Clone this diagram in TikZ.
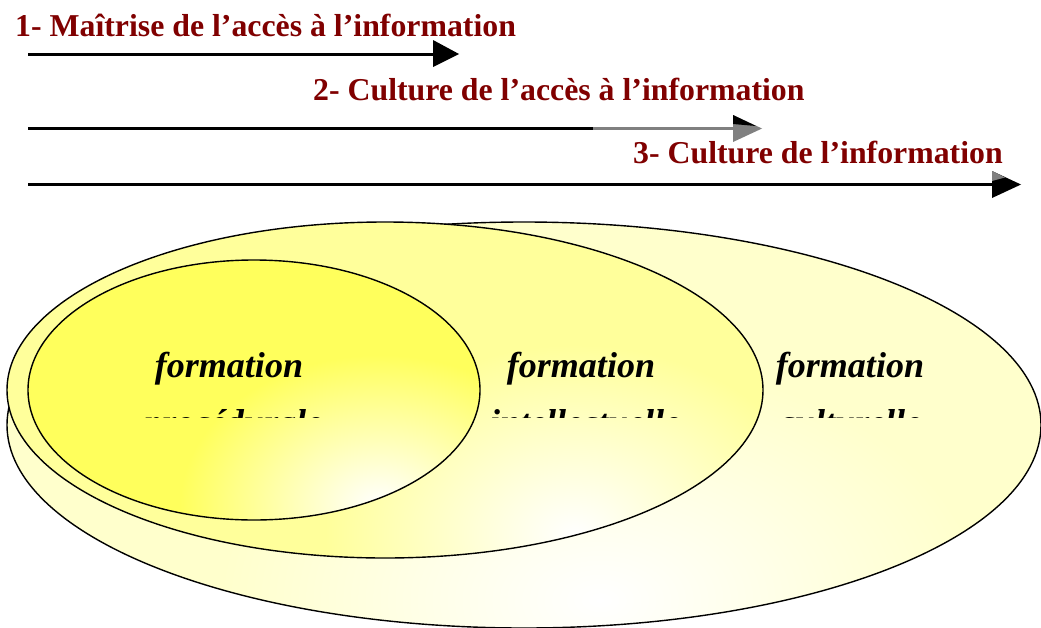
\documentclass[tikz,border=0pt]{standalone}
\usepackage{fontspec}
\setmainfont{Liberation Serif}
\begin{document}
\begin{tikzpicture}[x=1pt,y=-1pt,
  titletext/.style={text=maroonc,font=\bfseries\fontsize{31.8}{36}\selectfont,anchor=base west,inner sep=0pt},
  formtext/.style={text=black,font=\bfseries\itshape\fontsize{36}{43}\selectfont,anchor=base,inner sep=0pt},
  shaft/.style={line width=3pt},
  rim/.style={draw=black,line width=1.4pt}]
\definecolor{maroonc}{RGB}{128,0,0}
\definecolor{outerY}{RGB}{255,255,204}
\definecolor{midY}{RGB}{255,255,155}
\definecolor{innY}{RGB}{255,255,92}
\definecolor{grayA}{RGB}{128,128,128}
\useasboundingbox (0,0) rectangle (1041,627);
\fill[white] (0,0) rectangle (1041,627);

% titles
\node[titletext] (t1) at (15,36) {1- Maîtrise de l’accès à l’information};
\node[titletext] (t2) at (313,100) {2- Culture de l’accès à l’information};
\node[titletext] (t3) at (633,163) {3- Culture de l’information};

% arrow 1
\coordinate (a1s) at (28,54);
\coordinate (a1b) at (433,54);
\coordinate (a1t) at (459,54);
\draw[shaft] (a1s) -- (a1b);
\fill[black] (433,40) -- (a1t) -- (433,67) -- cycle;

% arrow 2
\coordinate (a2s) at (28,128);
\coordinate (a2m) at (593,128);
\coordinate (a2b) at (735,128);
\coordinate (a2t) at (762,128.5);
\draw[shaft] (a2s) -- (a2m);
\draw[shaft,grayA] (a2m) -- (a2b);
\fill[grayA] (733,115) -- (a2t) -- (733,142) -- cycle;
\fill[black] (733,115) -- (756,126) -- (733,124) -- cycle;

% arrow 3
\coordinate (a3s) at (28,184);
\coordinate (a3b) at (994,184);
\coordinate (a3t) at (1021,184.5);
\draw[shaft] (a3s) -- (a3b);
\fill[black] (992,171) -- (a3t) -- (992,198) -- cycle;
\fill[grayA] (992,171) -- (1005,177.5) -- (992,181) -- cycle;

% outer ellipse
\begin{scope}
  \clip (524,425) ellipse [x radius=517, y radius=203];
  \fill[outerY] (0,200) rectangle (1041,640);
  \shade[inner color=white, outer color=outerY] (600,600) ellipse [x radius=380, y radius=240];
\end{scope}
\draw[rim] (524,425) ellipse [x radius=517, y radius=203];

% middle ellipse
\begin{scope}
  \clip (385,390) ellipse [x radius=378, y radius=168];
  \fill[midY] (0,200) rectangle (800,600);
  \shade[inner color=white, outer color=midY] (575,535) ellipse [x radius=250, y radius=190];
\end{scope}
\draw[rim] (385,390) ellipse [x radius=378, y radius=168];

% inner ellipse
\begin{scope}
  \clip (254,390) ellipse [x radius=226, y radius=130];
  \fill[innY] (0,240) rectangle (500,540);
  \shade[inner color=white, outer color=innY] (380,505) ellipse [x radius=200, y radius=150];
\end{scope}
\draw[rim] (254,390) ellipse [x radius=226, y radius=130];

% labels
\node[formtext] (f1) at (229,377) {formation};
\node[formtext] (f2) at (581,377) {formation};
\node[formtext] (f3) at (850,377) {formation};
\begin{scope}
  \clip (0,395) rectangle (1041,417.5);
  \node[formtext] (g1) at (233,434.5) {procédurale};
  \node[formtext] (g2) at (585,434.5) {intellectuelle};
  \node[formtext] (g3) at (850,434.5) {culturelle};
\end{scope}
\end{tikzpicture}
\end{document}
